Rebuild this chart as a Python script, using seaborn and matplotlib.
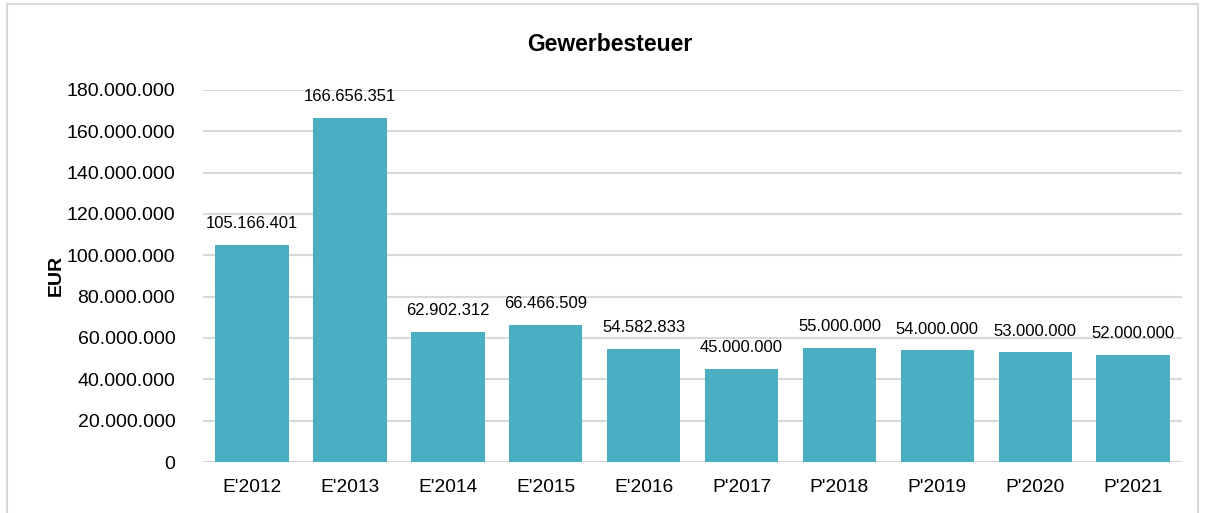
import matplotlib
matplotlib.use("Agg")
import matplotlib.pyplot as plt
import seaborn as sns
import pandas as pd
from matplotlib.patches import Rectangle

categories = ["E'2012", "E'2013", "E'2014", "E'2015", "E'2016",
              "P'2017", "P'2018", "P'2019", "P'2020", "P'2021"]
values = [105166401, 166656351, 62902312, 66466509, 54582833,
          45000000, 55000000, 54000000, 53000000, 52000000]
yticks = list(range(0, 180000001, 20000000))

def fmt(v):
    return f"{v:,}".replace(",", ".")

sns.set_theme(style="white")
plt.rcParams['font.family'] = ['Liberation Sans', 'DejaVu Sans']
plt.rcParams['text.color'] = '#000000'

df = pd.DataFrame({"cat": categories, "val": values})

fig = plt.figure(figsize=(12.05, 5.13), dpi=100)
ax = fig.add_axes([0.1685, 0.0994, 0.981 - 0.1685, 0.8246 - 0.0994])

sns.barplot(data=df, x="cat", y="val", color="#4BAFC4", saturation=1,
            width=0.75, ax=ax, zorder=3, edgecolor="none", linewidth=0)

ax.set_ylim(0, 180000000)
ax.set_yticks(yticks)
ax.set_yticklabels([fmt(t) for t in yticks], fontsize=14, color="#000000")
ax.tick_params(axis='x', labelsize=13.8, colors="#000000", pad=12)
ax.tick_params(axis='y', pad=20, length=0)
ax.tick_params(axis='x', length=0)
ax.grid(axis='y', color="#D9D9D9", linewidth=1.5, zorder=0)
for s in ax.spines.values():
    s.set_visible(False)
ax.set_xlabel("")
ax.set_ylabel("")

for i, v in enumerate(values):
    ax.annotate(fmt(v), (i, v), xytext=(0, 10), textcoords="offset points",
                ha="center", va="bottom", fontsize=12, color="#000000")

fig.text(0.506, 0.914, "Gewerbesteuer", ha="center", va="center",
         fontsize=16.5, fontweight="bold", color="#000000")
fig.text(0.047, 0.463, "EUR", ha="center", va="center", rotation=90,
         fontsize=14, fontweight="bold", color="#000000")

fig.patches.append(Rectangle((0.006, -0.01), 0.988, 1.002, transform=fig.transFigure,
                             fill=False, edgecolor="#D9D9D9", linewidth=1.5))

fig.savefig("out.png", dpi=100)
